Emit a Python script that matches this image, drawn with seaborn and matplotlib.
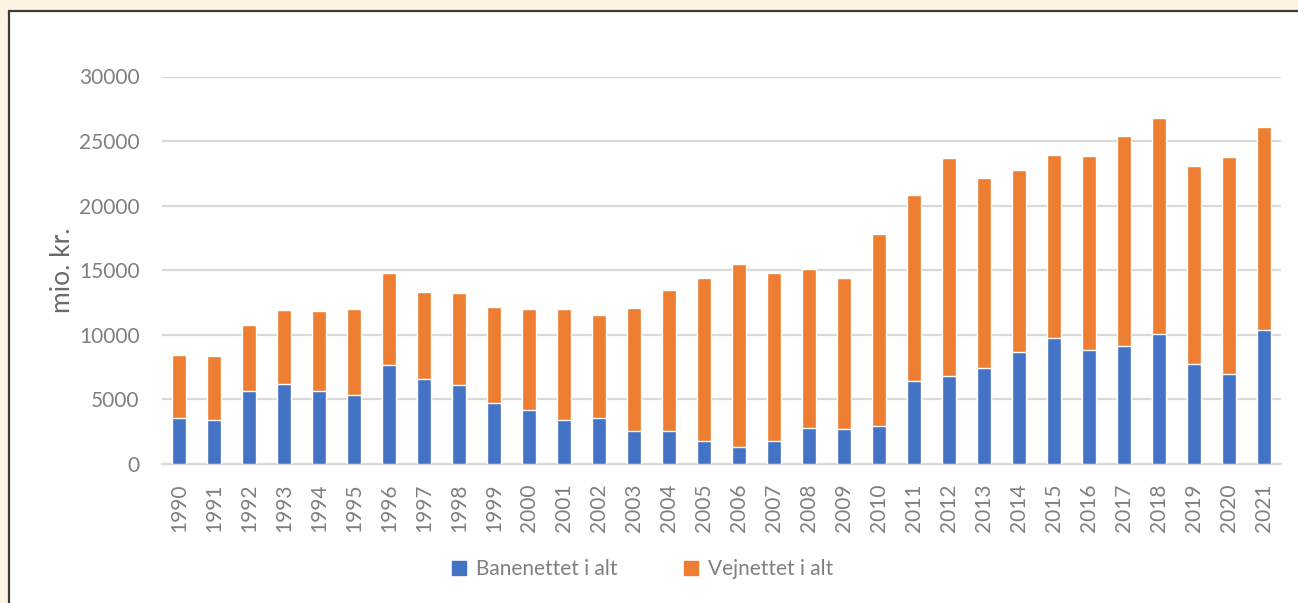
import pandas as pd
import matplotlib.pyplot as plt
import seaborn as sns
from matplotlib.patches import Rectangle, Patch

years = [str(y) for y in range(1990, 2022)]
banenettet = [3600, 3390, 5630, 6220, 5680, 5320, 7640, 6560, 6150, 4720,
              4210, 3430, 3590, 2530, 2530, 1810, 1340, 1760, 2790, 2690,
              2970, 6430, 6820, 7440, 8650, 9760, 8830, 9140, 10100, 7750,
              6970, 10360]
total = [8440, 8370, 10740, 11930, 11830, 11980, 14820, 13320, 13250, 12160,
         11980, 11980, 11540, 12080, 13450, 14430, 15490, 14820, 15100, 14430,
         17820, 20830, 23680, 22130, 22800, 23910, 23860, 25380, 26750, 23060,
         23780, 26080]
vejnettet = [t - b for t, b in zip(total, banenettet)]

df = pd.DataFrame({"aar": years, "Banenettet i alt": banenettet,
                   "Vejnettet i alt": vejnettet, "total": total})

blue = "#4472C4"
orange = "#ED7D31"
grey = "#7f7f7f"

sns.set_theme(style="white")
plt.rcParams['font.family'] = ['Lato', 'DejaVu Sans']

fig = plt.figure(figsize=(12.98, 6.03), dpi=100)
fig.patch.set_facecolor("#fdf3e3")
# white panel with dark border (extends past right/bottom edges)
fig.patches.append(Rectangle((9 / 1298, -0.05), 1.1, (603 - 11) / 603 + 0.05,
                             transform=fig.transFigure, facecolor="white",
                             edgecolor="#3a3a3a", linewidth=1.6, zorder=-10))

ax = fig.add_axes([162 / 1298, 1 - 464 / 603, (1281 - 162) / 1298, (464 - 76.5) / 603])
ax.set_facecolor("none")
ax.set_zorder(5)

# orange drawn as full total, blue on top -> stacked look
sns.barplot(data=df, x="aar", y="total", color=orange, width=0.4,
            saturation=1, ax=ax, zorder=2)
sns.barplot(data=df, x="aar", y="Banenettet i alt", color=blue, width=0.4,
            saturation=1, ax=ax, zorder=3)

ax.set_ylim(0, 30000)
ax.set_xlim(-0.5, len(years) - 0.5)
ax.set_yticks(range(0, 30001, 5000))
ax.yaxis.grid(True, color="#d9d9d9", linewidth=1.6, zorder=0)
ax.set_axisbelow(True)
for s in ["top", "right", "left"]:
    ax.spines[s].set_visible(False)
ax.spines["bottom"].set_color("#d9d9d9")
ax.spines["bottom"].set_linewidth(1.6)

ax.tick_params(axis="y", length=0, pad=16, labelsize=15, labelcolor=grey)
ax.tick_params(axis="x", length=0, pad=14, labelsize=15, labelcolor=grey,
               labelrotation=90)
ax.set_xlabel("")
ax.set_ylabel("mio. kr.", fontsize=19, color="#6a6a6a", labelpad=3)

handles = [Patch(color=blue, label="Banenettet i alt"),
           Patch(color=orange, label="Vejnettet i alt")]
leg = fig.legend(handles=handles, loc="center", bbox_to_anchor=(643 / 1298, 1 - 569 / 603),
                 ncol=2, frameon=False, fontsize=15, labelcolor=grey,
                 handlelength=0.65, handleheight=0.65, handletextpad=0.5,
                 columnspacing=3.2)
leg.set_zorder(6)

fig.savefig("out.png", dpi=100, facecolor=fig.get_facecolor())
